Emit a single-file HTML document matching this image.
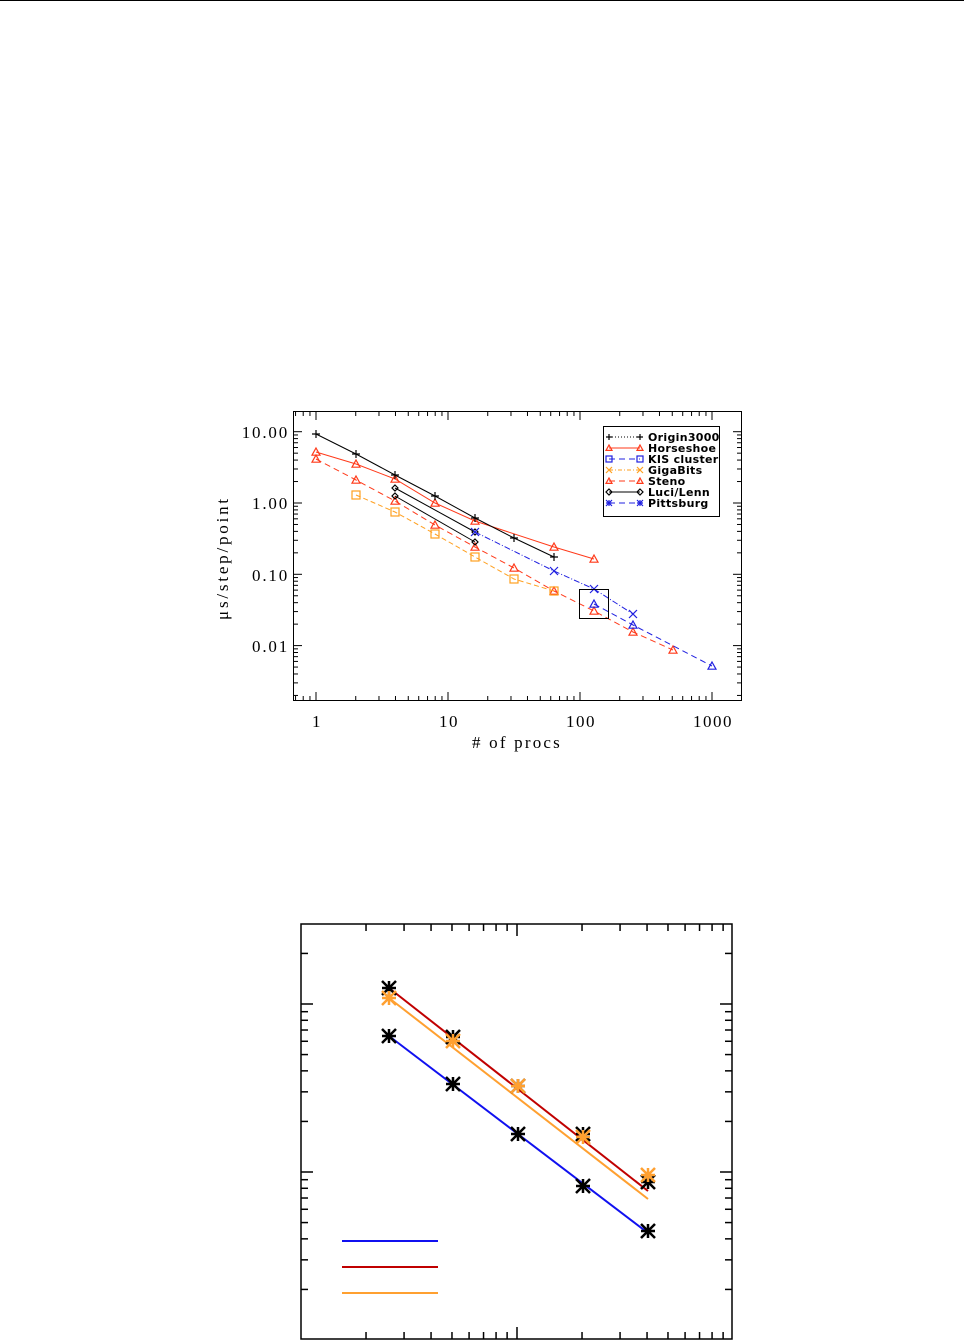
<!DOCTYPE html>
<html><head><meta charset="utf-8"><style>
html,body{margin:0;padding:0;background:#fff;}
svg{display:block;font-family:"Liberation Serif",serif;}
</style></head><body>
<svg id="s" width="964" height="1340" viewBox="0 0 964 1340" xmlns="http://www.w3.org/2000/svg">
<line x1="0" y1="0.5" x2="964" y2="0.5" stroke="#000" stroke-width="1"/>
<rect x="293.5" y="411.5" width="448" height="289" fill="none" stroke="#000" stroke-width="1"/>
<g id="t1"></g>
<g font-size="17" text-anchor="middle" letter-spacing="1.5">
<text x="317" y="727">1</text><text x="449" y="727">10</text><text x="581" y="727">100</text><text x="713" y="727">1000</text>
</g>
<g font-size="17" text-anchor="end" letter-spacing="1.8">
<text x="289" y="438">10.00</text><text x="289" y="509">1.00</text><text x="289" y="581">0.10</text><text x="289" y="652">0.01</text>
</g>
<text x="517" y="748" font-size="17" text-anchor="middle" letter-spacing="2.2"># of procs</text>
<text transform="translate(228,558) rotate(-90)" font-size="17" text-anchor="middle" letter-spacing="2.8">μs/step/point</text>
<g id="d1"></g>
<rect x="579.5" y="589.5" width="29" height="29" fill="none" stroke="#000" stroke-width="1"/>
<rect x="603.5" y="426.5" width="116" height="90" fill="#fff" stroke="#000" stroke-width="1"/>
<g id="lg"></g>
<g font-size="11" font-family="'DejaVu Sans',sans-serif" font-weight="bold" letter-spacing="0.3">
<text x="648" y="441">Origin3000</text><text x="648" y="452">Horseshoe</text><text x="648" y="463">KIS cluster</text>
<text x="648" y="474">GigaBits</text><text x="648" y="485">Steno</text><text x="648" y="496">Luci/Lenn</text><text x="648" y="507">Pittsburg</text>
</g>
<rect x="301" y="924" width="431" height="415" fill="none" stroke="#000" stroke-width="1.5"/>
<g id="t2"></g>
<g id="d2"></g>
</svg>
<script>
const NS="http://www.w3.org/2000/svg";
function el(p,t,a){const e=document.createElementNS(NS,t);for(const k in a)e.setAttribute(k,a[k]);p.appendChild(e);return e;}
const L=Math.log10;
const t1=document.getElementById('t1');
const X1=v=>316+132*L(v), Y1=v=>503-71.3*L(v);
for(let d=0.1;d<=1000;d*=10){for(let k=1;k<10;k++){const v=d*k,x=X1(v);if(x<294||x>741)continue;const len=k==1?8:4;
el(t1,'line',{x1:x,y1:700,x2:x,y2:700-len,stroke:'#000'});el(t1,'line',{x1:x,y1:412,x2:x,y2:412+len,stroke:'#000'});}}
for(let d=0.001;d<=100;d*=10){for(let k=1;k<10;k++){const v=d*k,y=Y1(v);if(y<412||y>700)continue;const len=k==1?8:4;
el(t1,'line',{x1:294,y1:y,x2:294+len,y2:y,stroke:'#000'});el(t1,'line',{x1:741,y1:y,x2:741-len,y2:y,stroke:'#000'});}}
const d1=document.getElementById('d1');
function sym(g,type,x,y,c,s){s=s||4;
 if(type=='+'){el(g,'path',{d:`M${x-s} ${y}h${2*s}M${x} ${y-s}v${2*s}`,stroke:c,fill:'none','stroke-width':1.2});}
 else if(type=='tri'){el(g,'path',{d:`M${x} ${y-s}L${x+s} ${y+s*0.8}L${x-s} ${y+s*0.8}Z`,stroke:c,fill:'none','stroke-width':1.2});}
 else if(type=='sq'){el(g,'rect',{x:x-s,y:y-s,width:2*s,height:2*s,stroke:c,fill:'none','stroke-width':1.2});}
 else if(type=='x'){el(g,'path',{d:`M${x-s} ${y-s}L${x+s} ${y+s}M${x-s} ${y+s}L${x+s} ${y-s}`,stroke:c,fill:'none','stroke-width':1.2});}
 else if(type=='dia'){el(g,'path',{d:`M${x} ${y-s}L${x+s} ${y}L${x} ${y+s}L${x-s} ${y}Z`,stroke:c,fill:'none','stroke-width':1.2});}
 else if(type=='star'){el(g,'path',{d:`M${x-s} ${y-s}L${x+s} ${y+s}M${x-s} ${y+s}L${x+s} ${y-s}M${x-s} ${y}h${2*s}M${x} ${y-s}v${2*s}`,stroke:c,fill:'none','stroke-width':s>5?2.5:1.2});}
}
function series(g,pts,c,dash,type,w,s){el(g,'polyline',{points:pts.map(p=>p.join(',')).join(' '),fill:'none',stroke:c,'stroke-width':w||1,'stroke-dasharray':dash||''});pts.forEach(p=>sym(g,type,p[0],p[1],c,s));}
const R='#ff3a1a',B='#2020e0',O='#ffa020';
series(d1,[[316,452],[356,464],[395,479],[435,503],[475,521],[554,547],[594,559]],R,'','tri');
series(d1,[[316,459],[356,480],[395,501],[435,525],[475,547],[514,568],[554,591],[594,611],[633,632],[673,650]],R,'6,4','tri');
series(d1,[[594,604],[633,625],[712,666]],B,'6,4','tri');
series(d1,[[356,495],[395,512],[435,534],[475,557],[514,579],[554,591]],O,'5,3','sq');
series(d1,[[316,434],[356,454],[395,475],[435,496],[475,518],[514,538],[554,557]],'#000','','+');
series(d1,[[395,488],[475,532]],'#000','','dia',1,3);
series(d1,[[395,496],[475,542]],'#000','','dia',1,3);
series(d1,[[475,532],[554,571],[594,589],[633,614]],B,'6,2,1,2','x');
const lg=document.getElementById('lg');
const items=[['#000','1,2','+'],[R,'','tri'],[B,'6,4','sq'],[O,'4,2,1,2','x'],[R,'6,4','tri'],['#000','','dia'],[B,'6,4','star']];
items.forEach((it,i)=>{const y=437+11*i;el(lg,'line',{x1:609,y1:y,x2:640,y2:y,stroke:it[0],'stroke-dasharray':it[1]});sym(lg,it[2],609,y,it[0],3);sym(lg,it[2],640,y,it[0],3);});
const t2=document.getElementById('t2');
const X2=v=>517+216*L(v/10), Y2=v=>1172-168*L(v);
for(let d=1;d<=100;d*=10){for(let k=1;k<10;k++){const x=X2(d*k);if(x<302||x>731)continue;const len=k==1?12:7;
el(t2,'line',{x1:x,y1:1339,x2:x,y2:1339-len,stroke:'#000','stroke-width':1.5});el(t2,'line',{x1:x,y1:924,x2:x,y2:924+len,stroke:'#000','stroke-width':1.5});}}
for(let d=0.1;d<=10;d*=10){for(let k=1;k<10;k++){const y=Y2(d*k);if(y<925||y>1338)continue;const len=k==1?12:7;
el(t2,'line',{x1:301,y1:y,x2:301+len,y2:y,stroke:'#000','stroke-width':1.5});el(t2,'line',{x1:732,y1:y,x2:732-len,y2:y,stroke:'#000','stroke-width':1.5});}}
const d2=document.getElementById('d2');
const xs=[389,453,518,583,648];
el(d2,'line',{x1:389,y1:1036,x2:648,y2:1233,stroke:'#1010f0','stroke-width':2});
el(d2,'line',{x1:389,y1:988,x2:648,y2:1191,stroke:'#c00000','stroke-width':2});
el(d2,'line',{x1:389,y1:998,x2:648,y2:1199,stroke:'#ffa030','stroke-width':2});
[1036,1084,1134,1186,1231].forEach((y,i)=>sym(d2,'star',xs[i],y,'#000',7));
[988,1037,1086,1134,1182].forEach((y,i)=>sym(d2,'star',xs[i],y,'#000',7));
[998,1041,1086,1137,1175].forEach((y,i)=>sym(d2,'star',xs[i],y,'#ffa030',7));
el(d2,'line',{x1:342,y1:1241,x2:438,y2:1241,stroke:'#1010f0','stroke-width':2});
el(d2,'line',{x1:342,y1:1267,x2:438,y2:1267,stroke:'#c00000','stroke-width':2});
el(d2,'line',{x1:342,y1:1293,x2:438,y2:1293,stroke:'#ffa030','stroke-width':2});
</script>
</body></html>
